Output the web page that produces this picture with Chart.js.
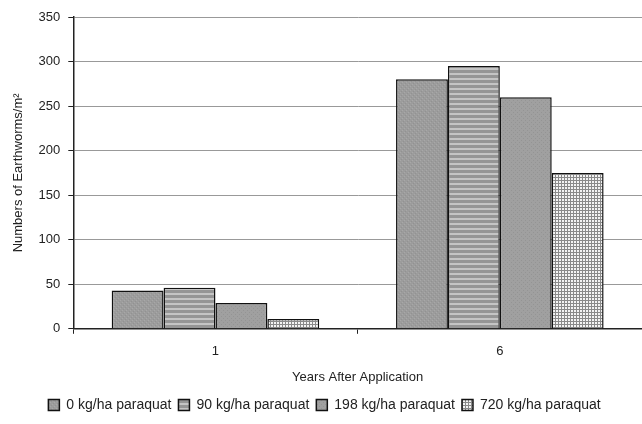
<!DOCTYPE html>
<html>
<head>
<meta charset="utf-8">
<script src="https://cdn.jsdelivr.net/npm/chart.js@4/dist/chart.umd.min.js"></script>
<style>
  html, body { margin: 0; padding: 0; background: #fff; }
  #wrap { width: 642px; height: 424px; }
</style>
</head>
<body>
<div id="wrap"><canvas id="myChart"></canvas></div>
<script>
const years = ["1", "6"];
const dose0 = [43, 280];
const dose90 = [46, 295];
const dose198 = [29, 260];
const dose720 = [11, 175];
const seriesNames = ["0 kg/ha paraquat", "90 kg/ha paraquat", "198 kg/ha paraquat", "720 kg/ha paraquat"];

// small canvas patterns to mimic the grey print fills
function makePattern(w, h, draw) {
  const c = document.createElement('canvas');
  c.width = w; c.height = h;
  const g = c.getContext('2d');
  draw(g);
  return g.createPattern(c, 'repeat');
}
const ctx = document.getElementById('myChart');

const speckle = makePattern(4, 4, g => {
  g.fillStyle = '#9c9c9c'; g.fillRect(0, 0, 4, 4);
  g.fillStyle = '#a8a8a8'; g.fillRect(0, 0, 1, 1); g.fillRect(2, 2, 1, 1);
  g.fillStyle = '#929292'; g.fillRect(3, 1, 1, 1); g.fillRect(1, 3, 1, 1);
});
const stripes = makePattern(4, 5, g => {
  g.fillStyle = '#959595'; g.fillRect(0, 0, 4, 5);
  g.fillStyle = '#c4c4c4'; g.fillRect(0, 3, 4, 2);
});
const speckle2 = makePattern(4, 4, g => {
  g.fillStyle = '#a0a0a0'; g.fillRect(0, 0, 4, 4);
  g.fillStyle = '#949494'; g.fillRect(1, 0, 1, 1); g.fillRect(3, 2, 1, 1);
});
const grid = makePattern(3, 3, g => {
  g.fillStyle = '#f4f4f4'; g.fillRect(0, 0, 3, 3);
  g.fillStyle = '#8a8a8a'; g.fillRect(0, 0, 3, 1); g.fillRect(0, 0, 1, 3);
});

const fills = [speckle, stripes, speckle2, grid];
const values = [dose0, dose90, dose198, dose720];
const font = { family: 'Liberation Sans, Arial', size: 13 };

new Chart(ctx, {
  type: 'bar',
  data: {
    labels: years,
    datasets: values.map((v, i) => ({
      label: seriesNames[i],
      data: v,
      backgroundColor: fills[i],
      borderColor: '#111',
      borderWidth: 1.5,
      categoryPercentage: 0.73,
      barPercentage: 1
    }))
  },
  options: {
    responsive: true,
    maintainAspectRatio: false,
    animation: false,
    layout: { padding: { left: 7, right: 0, top: 17, bottom: 2 } },
    scales: {
      x: {
        grid: { drawOnChartArea: false, drawTicks: true, tickLength: 5, color: '#222' },
        border: { color: '#222', width: 1.5 },
        ticks: { color: '#222', font: font, padding: 10 },
        title: {
          display: true, text: 'Years After Application', color: '#222',
          font: font, padding: { top: 0, bottom: 6 }
        }
      },
      y: {
        min: 0, max: 350,
        ticks: { stepSize: 50, color: '#222', font: font, padding: 8 },
        grid: { color: '#999', tickLength: 5, tickColor: '#222' },
        border: { color: '#222', width: 1.5 },
        title: {
          display: true, text: 'Numbers of Earthworms/m²', color: '#222',
          font: font, padding: { bottom: 4 }
        }
      }
    },
    plugins: {
      legend: {
        position: 'bottom',
        labels: {
          color: '#222', boxWidth: 11, boxHeight: 11, padding: 7,
          font: { family: 'Liberation Sans, Arial', size: 14 }
        }
      },
      tooltip: { enabled: false }
    }
  }
});
</script>
</body>
</html>
